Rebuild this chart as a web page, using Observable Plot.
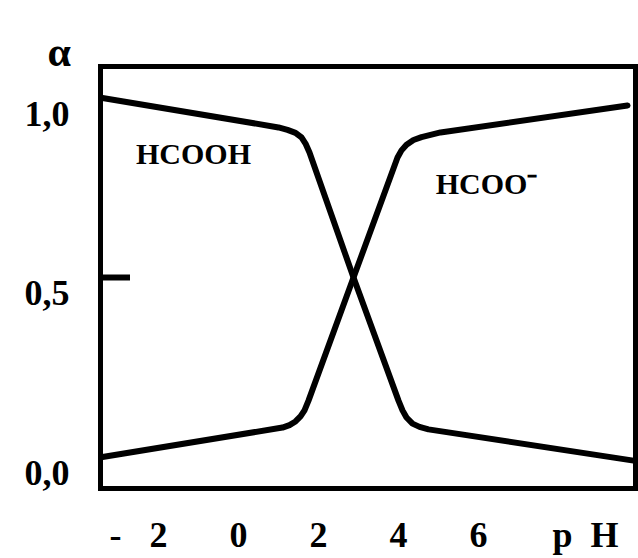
<!DOCTYPE html>
<html><head><meta charset="utf-8">
<script src="https://cdn.jsdelivr.net/npm/d3@7"></script>
<script src="https://cdn.jsdelivr.net/npm/@observablehq/plot@0.6"></script>
<style>body{margin:0;background:#fff} svg{display:block}</style>
</head><body><div id="chart"></div>
<script>
// Data
const pH_HCOOH    = [-3.4, 1.0, 1.225, 1.425, 1.575, 1.675, 1.775, 2.875, 4.0, 4.1, 4.2, 4.35, 4.525, 4.75, 9.875];
const alpha_HCOOH = [1.0, 0.918, 0.911, 0.903, 0.890, 0.873, 0.848, 0.5, 0.157, 0.130, 0.110, 0.093, 0.084, 0.077, -0.010];
const pH_HCOO     = [-3.4, 1.1, 1.275, 1.425, 1.55, 1.65, 1.75, 2.875, 3.975, 4.075, 4.2, 4.375, 4.575, 5.05, 9.725];
const alpha_HCOO  = [0.0, 0.082, 0.089, 0.099, 0.113, 0.130, 0.157, 0.5, 0.834, 0.854, 0.870, 0.883, 0.891, 0.904, 0.979];
const xTicks = [-2, 0, 2, 4, 6];
const yTicks = [0, 0.5, 1];
const yTickLabels = ["0,0", "0,5", "1,0"];
const innerTicks = [0.5];
const speciesLabels = ["HCOOH", "HCOO\u207B"];
const speciesLabelX = [-1.125, 6.2];
const speciesLabelY = [0.843, 0.759];
const xLabel = "p\u2002H";
const xLabelAt = 8;
const yLabel = "\u03B1";

const lineA = pH_HCOOH.map((x, i) => ({x, y: alpha_HCOOH[i]}));
const lineB = pH_HCOO.map((x, i) => ({x, y: alpha_HCOO[i]}));
const labels = speciesLabels.map((t, i) => ({t, x: speciesLabelX[i], y: speciesLabelY[i]}));

const font = "Liberation Serif, Times New Roman, serif";

const chart = Plot.plot({
  width: 638,
  height: 558,
  marginLeft: 100,
  marginRight: 3,
  marginTop: 66,
  marginBottom: 70,
  style: {fontFamily: font, color: "#000", background: "#fff"},
  x: {domain: [-3.45, 9.925]},
  y: {domain: [-0.0877, 1.0877]},
  marks: [
    Plot.frame({stroke: "#000", strokeWidth: 5}),
    Plot.axisX({ticks: xTicks, tickSize: 0, tickPadding: 33, tickFormat: d => String(Math.abs(d)),
      fontSize: 36, fontWeight: "bold", label: null}),
    Plot.text([-2], {x: d => d, frameAnchor: "bottom", lineAnchor: "top", dy: 33, dx: -43,
      text: () => "-", fontSize: 36, fontWeight: "bold"}),
    Plot.text([xLabelAt], {x: d => d, frameAnchor: "bottom", lineAnchor: "top", dy: 33, dx: 27,
      text: () => xLabel, fontSize: 36, fontWeight: "bold"}),
    Plot.axisY({ticks: yTicks, tickSize: 0, tickPadding: 31, dy: 16,
      tickFormat: d => yTickLabels[yTicks.indexOf(d)], fontSize: 36, fontWeight: "bold", label: null}),
    Plot.axisY({ticks: innerTicks, tickSize: -30, strokeWidth: 6, tickFormat: () => "", label: null}),
    Plot.text([yLabel], {frameAnchor: "top-left", dx: -53, dy: -30, text: d => d,
      fontSize: 42, fontWeight: "bold"}),
    Plot.line(lineA, {x: "x", y: "y", curve: "linear", stroke: "#000", strokeWidth: 6, strokeLinejoin: "round"}),
    Plot.line(lineB, {x: "x", y: "y", curve: "linear", stroke: "#000", strokeWidth: 6, strokeLinejoin: "round"}),
    Plot.text(labels, {x: "x", y: "y", text: "t", fontSize: 30, fontWeight: "bold", textAnchor: "middle", lineAnchor: "middle", fill: "#000"})
  ]
});
document.getElementById("chart").appendChild(chart);
</script>
</body></html>
